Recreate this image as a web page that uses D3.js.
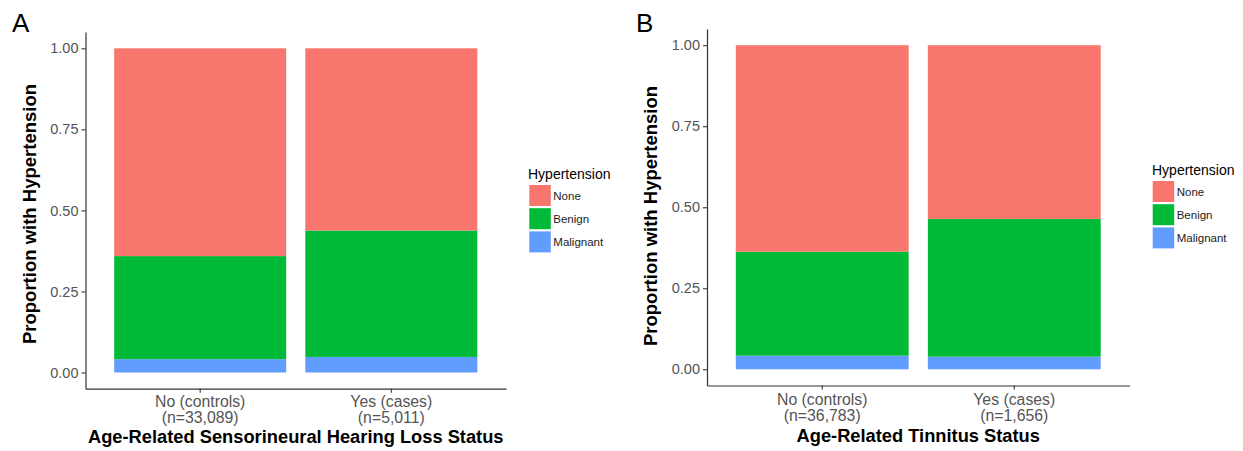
<!DOCTYPE html>
<html>
<head>
<meta charset="utf-8">
<script src="https://cdn.jsdelivr.net/npm/d3@7"></script>
<style>
  body { margin: 0; background: #fff; }
  svg { font-family: "Liberation Sans", Arial, sans-serif; }
</style>
</head>
<body>
<svg id="chart" width="1243" height="451"></svg>
<script>
// 범주와 값
const keys = ["Malignant", "Benign", "None"];
const legendKeys = ["None", "Benign", "Malignant"];
const colors = { None: "#F8766D", Benign: "#00BA38", Malignant: "#619CFF" };

const categoriesA = ["No (controls)", "Yes (cases)"];
const countsA = ["(n=33,089)", "(n=5,011)"];
const malignantA = [0.041, 0.048];
const benignA = [0.318, 0.390];
const noneA = [0.641, 0.562];

const categoriesB = ["No (controls)", "Yes (cases)"];
const countsB = ["(n=36,783)", "(n=1,656)"];
const malignantB = [0.042, 0.039];
const benignB = [0.321, 0.425];
const noneB = [0.637, 0.536];

const yTicks = [0, 0.25, 0.5, 0.75, 1];

const panels = [
    { tag: "A", cats: categoriesA, counts: countsA, mal: malignantA, ben: benignA, non: noneA,
      xTitle: "Age-Related Sensorineural Hearing Loss Status",
      x0: 85.5, x1: 506, yTop: 32.1, yBot: 388.7, tagX: 12, tagY: 32,
      yTitleX: 36, yTitleY: 214, xTitleY: 443, tickY: 407,
      legX: 528, legY: 179, keyX: 529.3, keyY: 185 },
    { tag: "B", cats: categoriesB, counts: countsB, mal: malignantB, ben: benignB, non: noneB,
      xTitle: "Age-Related Tinnitus Status",
      x0: 707, x1: 1129.5, yTop: 29, yBot: 385.5, tagX: 636, tagY: 32,
      yTitleX: 657, yTitleY: 216, xTitleY: 441.5, tickY: 405,
      legX: 1152, legY: 175, keyX: 1152.7, keyY: 181 }
];

const svg = d3.select("#chart");

panels.forEach(p => {
    const rows = p.cats.map((c, i) => ({ cat: c, Malignant: p.mal[i], Benign: p.ben[i], None: p.non[i] }));
    const stacked = d3.stack().keys(keys)(rows);

    const x = d3.scaleBand().domain(p.cats).range([p.x0, p.x1]).paddingInner(0.1).paddingOuter(0.15);
    const y = d3.scaleLinear().domain([-0.05, 1.05]).range([p.yBot, p.yTop]);

    const g = svg.append("g");

    // 막대
    g.selectAll("g.layer")
        .data(stacked)
        .join("g")
        .attr("class", "layer")
        .attr("fill", d => colors[d.key])
        .selectAll("rect")
        .data(d => d)
        .join("rect")
        .attr("x", d => x(d.data.cat))
        .attr("width", x.bandwidth())
        .attr("y", d => y(d[1]))
        .attr("height", d => y(d[0]) - y(d[1]));

    // y축
    const yAxis = g.append("g")
        .attr("transform", `translate(${p.x0},0)`)
        .call(d3.axisLeft(y).tickValues(yTicks).tickFormat(d3.format(".2f"))
            .tickSizeInner(4).tickSizeOuter(0).tickPadding(3));
    yAxis.select(".domain").attr("stroke", "#333").attr("stroke-width", 1.2);
    yAxis.selectAll(".tick line").attr("stroke", "#333").attr("stroke-width", 1.1);
    yAxis.selectAll(".tick text").attr("fill", "#555").attr("font-size", "14.5px")
        .attr("font-family", "Liberation Sans, Arial, sans-serif");

    // x축
    const xAxis = g.append("g")
        .attr("transform", `translate(0,${p.yBot})`)
        .call(d3.axisBottom(x).tickSizeInner(4).tickSizeOuter(0).tickFormat(""));
    xAxis.select(".domain").attr("stroke", "#333").attr("stroke-width", 1.2);
    xAxis.selectAll(".tick line").attr("stroke", "#333").attr("stroke-width", 1.1);

    // x 눈금 라벨 (두 줄)
    p.cats.forEach((c, i) => {
        const cx = x(c) + x.bandwidth() / 2;
        const t = g.append("text")
            .attr("x", cx)
            .attr("y", p.tickY)
            .attr("text-anchor", "middle")
            .attr("fill", "#555")
            .attr("font-size", "15.8px");
        t.append("tspan").attr("x", cx).text(c);
        t.append("tspan").attr("x", cx).attr("dy", 16).text(p.counts[i]);
    });

    // 축 제목
    g.append("text")
        .attr("x", (p.x0 + p.x1) / 2)
        .attr("y", p.xTitleY)
        .attr("text-anchor", "middle")
        .attr("font-weight", "bold")
        .attr("font-size", "18.3px")
        .attr("fill", "#000")
        .text(p.xTitle);

    g.append("text")
        .attr("transform", `translate(${p.yTitleX},${p.yTitleY}) rotate(-90)`)
        .attr("text-anchor", "middle")
        .attr("font-weight", "bold")
        .attr("font-size", "18.5px")
        .attr("fill", "#000")
        .text("Proportion with Hypertension");

    // 패널 라벨
    g.append("text")
        .attr("x", p.tagX)
        .attr("y", p.tagY)
        .attr("font-size", "26px")
        .attr("fill", "#000")
        .text(p.tag);

    // 범례
    const leg = g.append("g");
    leg.append("text")
        .attr("x", p.legX)
        .attr("y", p.legY)
        .attr("font-size", "14px")
        .attr("fill", "#000")
        .text("Hypertension");
    legendKeys.forEach((k, i) => {
        leg.append("rect")
            .attr("x", p.keyX)
            .attr("y", p.keyY + i * 23.2)
            .attr("width", 21.5)
            .attr("height", 21)
            .attr("fill", colors[k]);
        leg.append("text")
            .attr("x", p.keyX + 24)
            .attr("y", p.keyY + i * 23.2 + 14.5)
            .attr("font-size", "11.5px")
            .attr("fill", "#222")
            .text(k);
    });
});
</script>
</body>
</html>
